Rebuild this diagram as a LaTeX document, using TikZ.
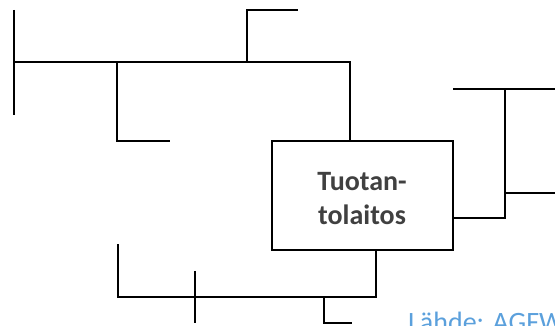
\documentclass[tikz,border=0pt]{standalone}
\usepackage{fontspec}
\setmainfont{Carlito}
\definecolor{labelgray}{RGB}{64,64,64}
\definecolor{srcblue}{RGB}{91,160,220}
\begin{document}
\begin{tikzpicture}[x=1pt,y=-1pt,
  wire/.style={line width=2.3pt, black},
  plantbox/.style={draw, line width=2.3pt, minimum width=181pt, minimum height=109.3pt, inner sep=0pt},
  plantlabel/.style={anchor=base, inner sep=0pt, text=labelgray, font=\fontsize{28}{34}\selectfont\bfseries},
  sourcelabel/.style={anchor=base west, inner sep=0pt, text=srcblue, font=\fontsize{28}{34}\selectfont}]
\useasboundingbox (0,0) rectangle (555,326);

% production plant
\node[plantbox] (box) at (362.8,195.35) {};
\node[plantlabel] (t1) at (362,190.7) {Tuotan-};
\node[plantlabel] (t2) at (362,225) {tolaitos};

% junction points of the network
\coordinate (a0) at (14,10);
\coordinate (a1) at (14,115);
\coordinate (j0) at (14,62);
\coordinate (j1) at (117,62);
\coordinate (j2) at (247,62);
\coordinate (j3) at (350,62);
\coordinate (b1) at (117,141);
\coordinate (b2) at (170,141);
\coordinate (c1) at (247,10);
\coordinate (c2) at (298,10);

\coordinate (r0) at (453.3,89);
\coordinate (r1) at (505,89);
\coordinate (r2) at (555,89);
\coordinate (r3) at (505,193);
\coordinate (r4) at (555,193);
\coordinate (r5) at (505,218);

\coordinate (d0) at (376,297);
\coordinate (d1) at (118,297);
\coordinate (d2) at (118,244);
\coordinate (e1) at (195,271);
\coordinate (e2) at (195,323);
\coordinate (f0) at (324,297);
\coordinate (f1) at (324,323);
\coordinate (f2) at (352,323);

% upper-left branch
\draw[wire] (a0) -- (a1);
\draw[wire] (j0) -- (j3) -- (j3 |- box.north);
\draw[wire] (j1) -- (b1) -- (b2);
\draw[wire] (j2) -- (c1) -- (c2);

% right branch
\draw[wire] (r0) -- (r2);
\draw[wire] (r1) -- (r5) -- (box.east |- r5);
\draw[wire] (r3) -- (r4);

% lower branch
\draw[wire] (box.south -| d0) -- (d0) -- (d1) -- (d2);
\draw[wire] (e1) -- (e2);
\draw[wire] (f0) -- (f1) -- (f2);

% source note
\node[sourcelabel] (src) at (408,331) {Lähde: AGFW};
\end{tikzpicture}
\end{document}
